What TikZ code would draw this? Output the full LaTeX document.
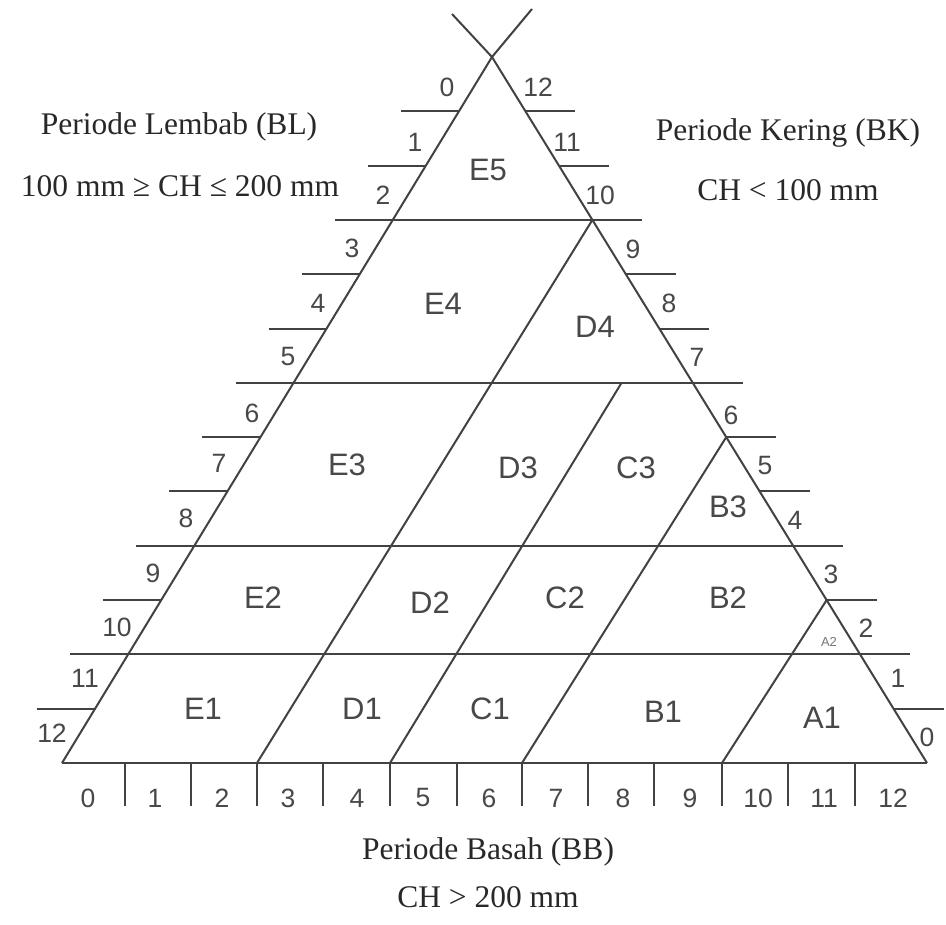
\documentclass[tikz,border=0pt]{standalone}
\usepackage{fontspec}
\setmainfont{Liberation Serif}
\setsansfont{Liberation Sans}
\usetikzlibrary{calc}
\definecolor{lncol}{RGB}{66,66,66}
\definecolor{sanscol}{RGB}{72,72,72}
\definecolor{sercol}{RGB}{40,40,40}
\begin{document}
\begin{tikzpicture}[x=1pt,y=-1pt,
  ln/.style={draw=lncol,line width=2pt},
  rlab/.style={font=\sffamily\fontsize{31}{31}\selectfont,text=sanscol,inner sep=0pt},
  nlab/.style={font=\sffamily\fontsize{26.5}{26.5}\selectfont,text=sanscol,inner sep=0pt},
  slab/.style={font=\sffamily\fontsize{13}{13}\selectfont,text=sanscol!75,inner sep=0pt},
  ttl/.style={font=\fontsize{31.5}{31.5}\selectfont,text=sercol,inner sep=0pt,anchor=base}]
\useasboundingbox (0,0) rectangle (946,925);
\fill[white] (0,0) rectangle (946,925);
\coordinate (A) at (62,763);
\coordinate (B) at (927,763);
\coordinate (C) at (492,57);
\coordinate (XL) at (452,14);
\coordinate (XR) at (532,9);
\foreach \k in {1,...,12}{
  \coordinate (L\k) at ($(A)!\k/13!(C)$);
  \coordinate (R\k) at ($(B)!\k/13!(C)$);
}
% triangle and apex cross
\draw[ln] (A) -- (B);
\draw[ln] (A) -- (C) -- (XR);
\draw[ln] (B) -- (C) -- (XL);
% full horizontal lines
\foreach \j in {2,4,7,10}
  \draw[ln] ($(L\j)+(-58,0)$) -- ($(R\j)+(50,0)$);
% short side ticks
\foreach \j in {1,3,5,6,8,9,11,12}{
  \draw[ln] ($(L\j)+(-58,0)$) -- (L\j);
  \draw[ln] (R\j) -- ($(R\j)+(50,0)$);
}
% bottom ticks
\foreach \x [count=\i] in {125,191,257,323,390,457,522,588,654,722,788,855}{
  \coordinate (T\i) at (\x,763);
  \draw[ln] (T\i) -- ++(0,43);
}
% diagonals
\draw[ln] (T3) -- (R10);
\draw[ln] (T5) -- ($(T5)+(L7)-(A)$);
\draw[ln] (T7) -- (R6);
\draw[ln] (T10) -- (R3);
% region labels
\node[rlab] (E5) at (488,170) {E5};
\node[rlab] (E4) at (443,304) {E4};
\node[rlab] (D4) at (595,327) {D4};
\node[rlab] (E3) at (347,465) {E3};
\node[rlab] (D3) at (518,468) {D3};
\node[rlab] (C3) at (636,468) {C3};
\node[rlab] (B3) at (728,507) {B3};
\node[rlab] (E2) at (263,598) {E2};
\node[rlab] (D2) at (430,603) {D2};
\node[rlab] (C2) at (565,598) {C2};
\node[rlab] (B2) at (728,598) {B2};
\node[slab] (A2) at (829,642) {A2};
\node[rlab] (E1) at (203,709) {E1};
\node[rlab] (D1) at (362,709) {D1};
\node[rlab] (C1) at (490,709) {C1};
\node[rlab] (B1) at (663,712) {B1};
\node[rlab] (A1) at (822,718) {A1};
% left scale
\foreach \t/\x/\y in {0/447/87,1/415/142,2/383/195,3/352/248,4/318/303,5/288/357,6/252/413,7/219/463,8/186/518,9/153/573,10/117/627,11/85/678,12/52/733}
  \node[nlab] (lft\t) at (\x,\y) {\t};
% right scale
\foreach \t/\x/\y in {12/538/87,11/567/142,10/600/195,9/633/249,8/669/303,7/697/357,6/731/415,5/765/466,4/795/520,3/831/574,2/866/628,1/898/678,0/927/737}
  \node[nlab] (rgt\t) at (\x,\y) {\t};
% bottom scale
\foreach \t/\x in {0/88,1/155,2/222,3/288,4/357,5/423,6/489,7/556,8/623,9/690,10/758,11/824,12/893}
  \node[nlab] (bot\t) at (\x,798) {\t};
% titles
\node[ttl] (bl1) at (179,135) {Periode Lembab (BL)};
\node[ttl] (bl2) at (180,197) {100 mm ≥ CH ≤ 200 mm};
\node[ttl] (bk1) at (788,141) {Periode Kering (BK)};
\node[ttl] (bk2) at (788,201) {CH < 100 mm};
\node[ttl] (bb1) at (488,859) {Periode Basah (BB)};
\node[ttl] (bb2) at (488,907) {CH > 200 mm};
\end{tikzpicture}
\end{document}
